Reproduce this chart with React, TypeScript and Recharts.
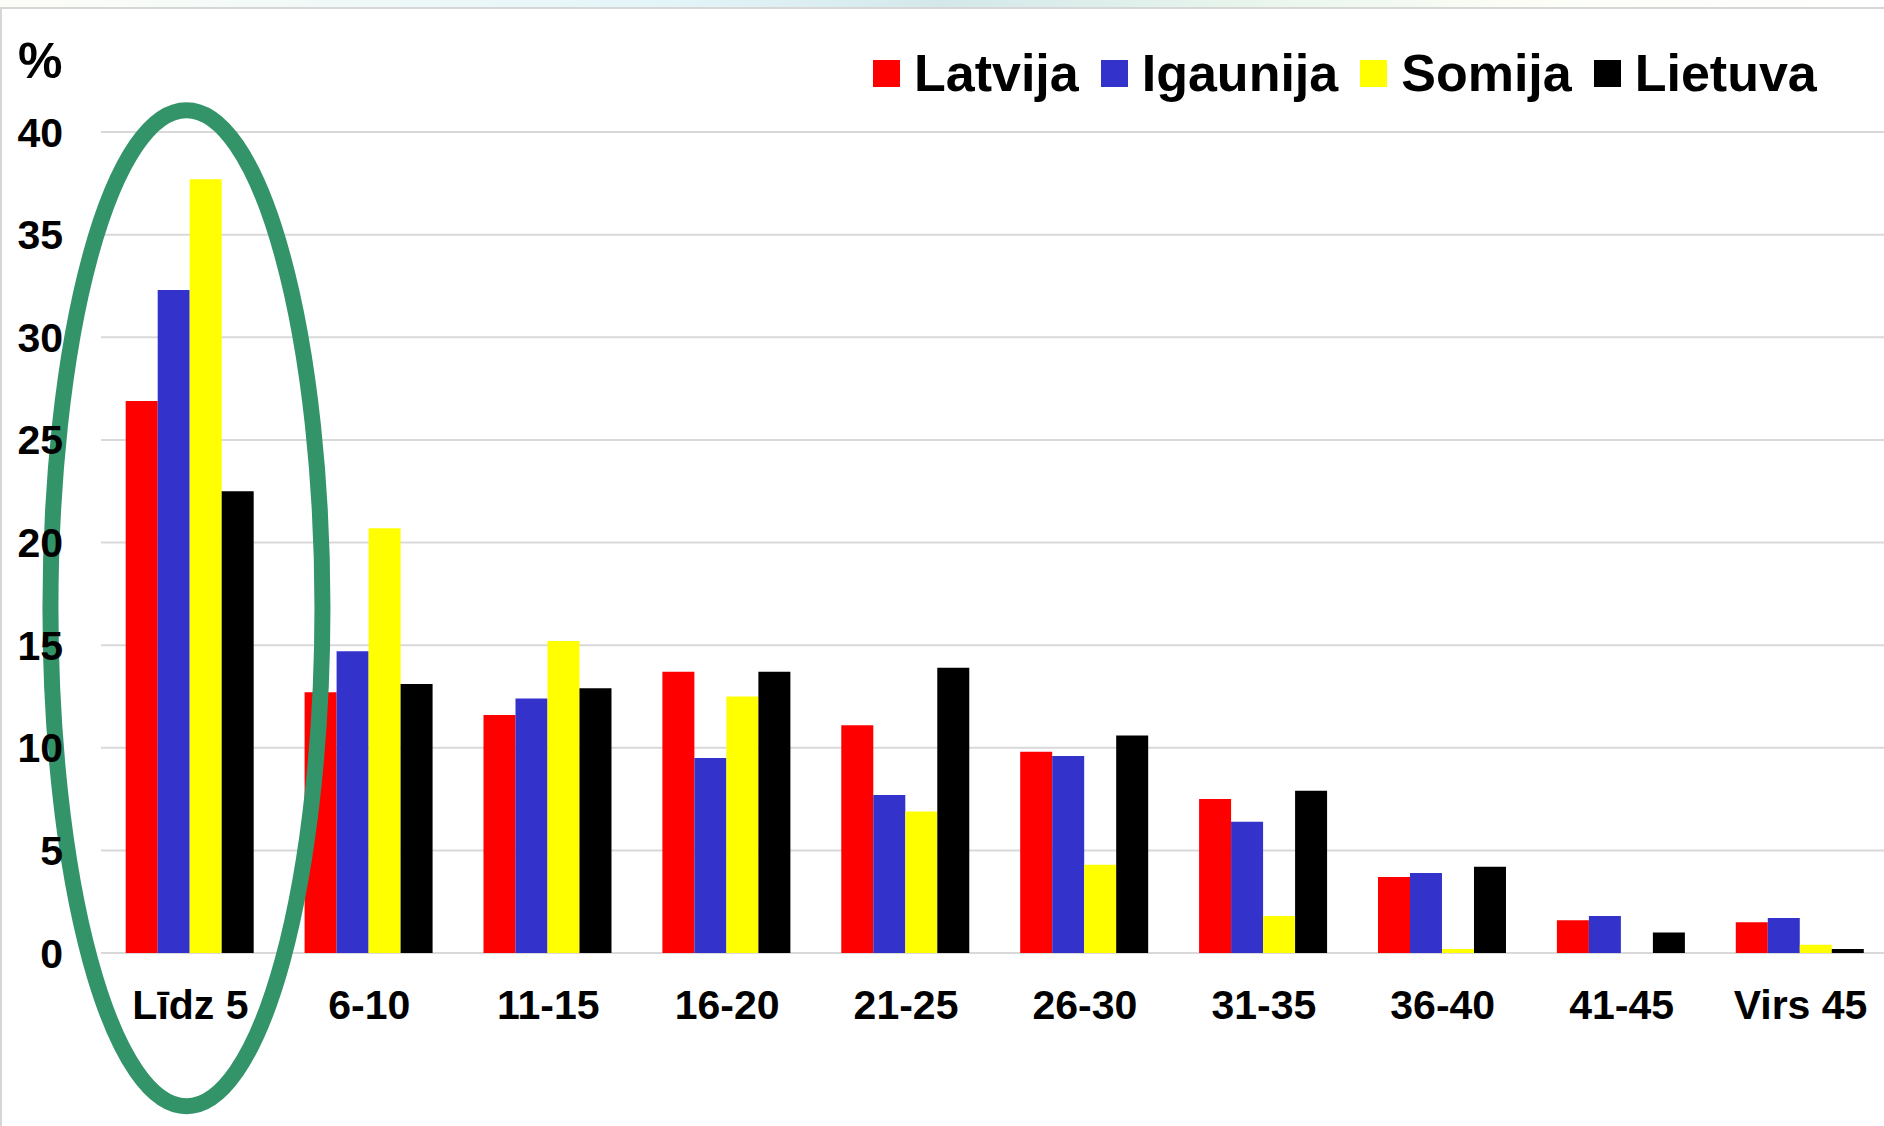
import { BarChart, Bar, XAxis, YAxis, CartesianGrid, ReferenceDot } from "recharts";

const categories = ["Līdz 5", "6-10", "11-15", "16-20", "21-25", "26-30", "31-35", "36-40", "41-45", "Virs 45"];
const latvija = [26.9, 12.7, 11.6, 13.7, 11.1, 9.8, 7.5, 3.7, 1.6, 1.5];
const igaunija = [32.3, 14.7, 12.4, 9.5, 7.7, 9.6, 6.4, 3.9, 1.8, 1.7];
const somija = [37.7, 20.7, 15.2, 12.5, 6.9, 4.3, 1.8, 0.2, 0, 0.4];
const lietuva = [22.5, 13.1, 12.9, 13.7, 13.9, 10.6, 7.9, 4.2, 1.0, 0.2];
const yTicks = [0, 5, 10, 15, 20, 25, 30, 35, 40];

const series = [
  { key: "Latvija", color: "#FF0000" },
  { key: "Igaunija", color: "#3333CC" },
  { key: "Somija", color: "#FFFF00" },
  { key: "Lietuva", color: "#000000" },
];

const data = categories.map((name, i) => ({
  name,
  Latvija: latvija[i],
  Igaunija: igaunija[i],
  Somija: somija[i],
  Lietuva: lietuva[i],
}));

const font = "'Liberation Sans', Arial, sans-serif";

function LegendBox() {
  return (
    <div style={{ display: "flex", alignItems: "center", fontFamily: font, fontWeight: 700, fontSize: 52, lineHeight: 1 }}>
      {series.map((s, i) => (
        <div key={s.key} style={{ display: "flex", alignItems: "center", marginLeft: i === 0 ? 0 : 22 }}>
          <span style={{ width: 27, height: 27, background: s.color, display: "inline-block", marginRight: 14 }} />
          <span>{s.key}</span>
        </div>
      ))}
    </div>
  );
}

// green ellipse around the first group
function Ring(props: any) {
  const { cx, cy } = props;
  if (cx == null || cy == null) return null;
  return <ellipse cx={cx - 4} cy={cy} rx={136} ry={498} fill="none" stroke="#33946A" strokeWidth={16} />;
}

export default function App() {
  return (
    <div style={{ position: "absolute", left: 0, top: 0, width: 1884, height: 1126, overflow: "hidden", background: "#fff" }}>
      <div
        style={{
          position: "absolute",
          left: 0,
          top: 0,
          width: 1884,
          height: 7,
          background: "linear-gradient(90deg, #fdfdf8 0%, #e4f5f8 35%, #d4e8ea 50%, #e6f4ec 65%, #fbfdf6 80%, #ffffff 100%)",
        }}
      />
      <div style={{ position: "absolute", left: 0, top: 7, width: 1884, height: 2, background: "#d6d6d6" }} />
      <div style={{ position: "absolute", left: 0, top: 7, width: 2, height: 1119, background: "#d6d6d6" }} />
      <div
        style={{
          position: "absolute",
          left: 18,
          top: 36,
          fontFamily: font,
          fontWeight: 700,
          fontSize: 50,
          lineHeight: 1,
          color: "#000",
        }}
      >
        %
      </div>
      <div style={{ position: "absolute", left: 0, top: 0 }}>
        <BarChart
          width={1900}
          height={1126}
          data={data}
          margin={{ top: 132, right: 10, bottom: 73, left: 0 }}
          barCategoryGap="13.8%"
          barGap={0}
        >
          <CartesianGrid vertical={false} stroke="#d9d9d9" strokeWidth={2} />
          <XAxis
            dataKey="name"
            axisLine={false}
            tickLine={false}
            tickSize={0}
            tickMargin={37}
            height={100}
            interval={0}
            tick={{ fill: "#000", fontFamily: font, fontWeight: 700, fontSize: 41 }}
          />
          <YAxis
            domain={[0, 40]}
            ticks={yTicks}
            axisLine={false}
            tickLine={false}
            tickSize={0}
            tickMargin={38}
            width={101}
            tick={{ fill: "#000", fontFamily: font, fontWeight: 700, fontSize: 41 }}
          />
          {series.map((s) => (
            <Bar key={s.key} dataKey={s.key} fill={s.color} isAnimationActive={false} />
          ))}
          <ReferenceDot x="Līdz 5" y={16.8} r={1} ifOverflow="visible" shape={(p: any) => <Ring {...p} />} />
        </BarChart>
      </div>
      <div style={{ position: "absolute", left: 873, top: 47 }}>
        <LegendBox />
      </div>
    </div>
  );
}
